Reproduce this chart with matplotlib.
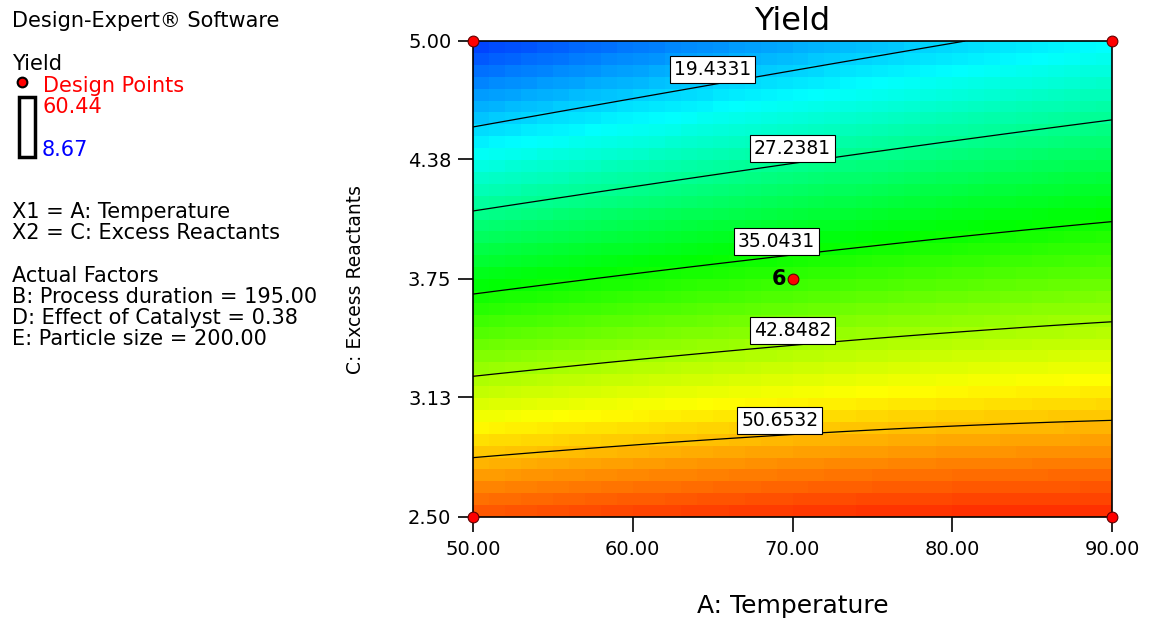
import numpy as np
import matplotlib.pyplot as plt
from matplotlib.colors import LinearSegmentedColormap
from matplotlib.patches import Rectangle

# factor ranges (actual units) and tick values
temp_range = [50.0, 90.0]
excess_range = [2.50, 5.00]
x_ticks = [50.00, 60.00, 70.00, 80.00, 90.00]
y_ticks = [2.50, 3.13, 3.75, 4.38, 5.00]

# coded quadratic model (terms: 1, A, C, AC, A^2, C^2), read back from the contour lines
coef_values = [37.11, 2.94, -20.5, 1.93, -0.55, 0.35]

contour_levels = [19.4331, 27.2381, 35.0431, 42.8482, 50.6532]
label_temps = [65.0, 70.0, 69.0, 70.0, 69.2]

yield_min, yield_max = 8.67, 60.44

design_temp = [50, 90, 50, 90, 70]
design_excess = [2.5, 2.5, 5.0, 5.0, 3.75]
center_runs = 6

factor_lines = ["X1 = A: Temperature", "X2 = C: Excess Reactants"]
actual_lines = ["Actual Factors", "B: Process duration = 195.00",
                "D: Effect of Catalyst = 0.38", "E: Particle size = 200.00"]


def predict(temp, excess):
    a = (temp - 70.0) / 20.0
    c = (excess - 3.75) / 1.25
    b = coef_values
    return b[0] + b[1] * a + b[2] * c + b[3] * a * c + b[4] * a ** 2 + b[5] * c ** 2


W, H = 1149, 623
fig = plt.figure(figsize=(W / 100, H / 100), dpi=100)
plt.rcParams['font.family'] = ['DejaVu Sans']

ax = fig.add_axes([473 / W, 1 - 517 / H, (1112 - 473) / W, (517 - 41) / H])

de_cmap = LinearSegmentedColormap.from_list(
    'de', ['#0000ff', '#00ffff', '#00ff00', '#ffff00', '#ff0000'])

# blocky colour field like Design-Expert
n_cells = 40
xe = np.linspace(*temp_range, n_cells + 1)
ye = np.linspace(*excess_range, n_cells + 1)
xc = (xe[:-1] + xe[1:]) / 2
yc = (ye[:-1] + ye[1:]) / 2
XC, YC = np.meshgrid(xc, yc)
ax.pcolormesh(xe, ye, predict(XC, YC), cmap=de_cmap, vmin=yield_min, vmax=yield_max,
              shading='flat')

# contour lines
xf = np.linspace(*temp_range, 300)
yf = np.linspace(*excess_range, 300)
XF, YF = np.meshgrid(xf, yf)
cs = ax.contour(XF, YF, predict(XF, YF), levels=contour_levels, colors='black',
                linewidths=0.9)

# labels sitting on top of each line
for lev, t in zip(contour_levels, label_temps):
    col = predict(t, yf) - lev
    idx = np.where(np.diff(np.sign(col)) != 0)[0][0]
    y_on = np.interp(0, [col[idx + 1], col[idx]], [yf[idx + 1], yf[idx]])
    ax.annotate(f"{lev:.4f}", (t, y_on), xytext=(0, 4), textcoords='offset points',
                ha='center', va='bottom', fontsize=13.5, zorder=5,
                bbox=dict(boxstyle='square,pad=0.22', fc='white', ec='black', lw=0.8))

ax.scatter(design_temp, design_excess, s=60, c='#ff0000', edgecolors='#600000',
           linewidths=0.8, zorder=6, clip_on=False)
ax.annotate(str(center_runs), (design_temp[-1], design_excess[-1]), xytext=(-4.5, 0),
            textcoords='offset points', ha='right', va='center', fontsize=15,
            fontweight='bold', zorder=6)

ax.set_xlim(*temp_range)
ax.set_ylim(*excess_range)
ax.set_xticks(x_ticks)
ax.set_yticks(y_ticks)
ax.set_xticklabels([f"{v:.2f}" for v in x_ticks])
ax.set_yticklabels([f"{v:.2f}" for v in y_ticks])
ax.tick_params(direction='out', length=10.5, width=1.2, labelsize=14)
ax.tick_params(axis='x', pad=6)
ax.tick_params(axis='y', pad=5)
for s in ax.spines.values():
    s.set_linewidth(1.2)

ax.set_title("Yield", fontsize=23, pad=8)
ax.set_xlabel("A: Temperature", fontsize=18)
ax.xaxis.set_label_coords(0.5, -0.162)
ax.set_ylabel("C: Excess Reactants", fontsize=13.5)
ax.yaxis.set_label_coords(-0.169, 0.5)

# left info panel
fs = 15
def ftext(px, py, s, **kw):
    fig.text(px / W, 1 - py / H, s, va='center', ha='left', fontsize=fs, **kw)

ftext(12, 21, "Design-Expert\u00ae Software")
ftext(12, 64, "Yield")
fig.add_artist(plt.Line2D([22 / W], [1 - 82 / H], marker='o', ms=7, mfc='#ff0000',
                          mec='black', mew=1.5, ls='none'))
ftext(43, 86, "Design Points", color='#ff0000')
fig.add_artist(Rectangle((19 / W, 1 - 157 / H), 16 / W, 60 / H, fill=False,
                         ec='black', lw=2.5, transform=fig.transFigure))
ftext(42, 107, "60.44", color='#ff0000')
ftext(42, 150, "8.67", color='#0000ff')
for i, s in enumerate(factor_lines):
    ftext(12, 212 + 21 * i, s)
for i, s in enumerate(actual_lines):
    ftext(12, 276 + 21 * i, s)

fig.savefig("out.png", dpi=100)
